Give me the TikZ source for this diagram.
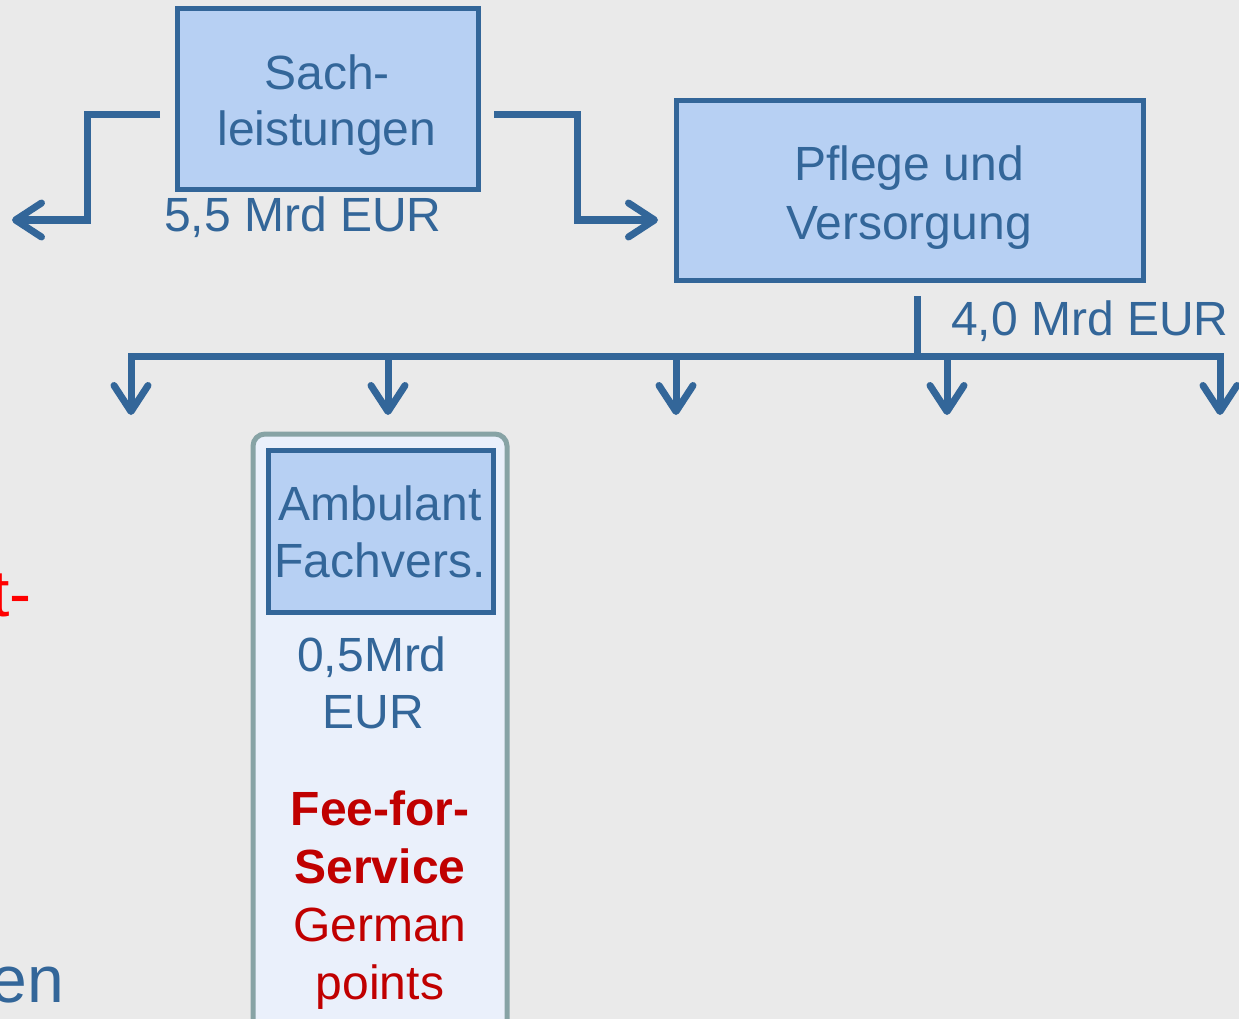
\documentclass[tikz,border=0pt]{standalone}
\usepackage{fontspec}
\setmainfont{Liberation Sans}
\usetikzlibrary{arrows.meta}
\definecolor{bl}{HTML}{336699}
\definecolor{bfill}{HTML}{B7D0F3}
\definecolor{bgc}{HTML}{EAEAEA}
\definecolor{ofill}{HTML}{EAF0FB}
\definecolor{oline}{HTML}{87A3A5}
\definecolor{dred}{HTML}{C00000}
\begin{document}
\begin{tikzpicture}[x=1pt,y=-1pt,
  bluebox/.style={draw=bl, fill=bfill, line width=5pt, inner sep=0pt},
  outerbox/.style={draw=oline, fill=ofill, line width=5pt, rounded corners=12pt, inner sep=0pt},
  txt/.style={text=bl, font=\fontsize{48}{58}\selectfont, inner sep=0pt, anchor=base},
  redtxt/.style={text=dred, font=\fontsize{48}{58}\selectfont, inner sep=0pt, anchor=base},
  conn/.style={draw=bl, line width=7pt},
  arr/.style={-{Straight Barb[length=26pt,width=34pt,line cap=round,line join=round]}}
]
\useasboundingbox (0,0) rectangle (1239,1019);
\clip (0,0) rectangle (1239,1019);
\fill[bgc] (0,0) rectangle (1239,1019);

% boxes
\node[bluebox, minimum width=301pt, minimum height=181pt] (sach) at (327.5,99.5) {};
\node[bluebox, minimum width=467pt, minimum height=179pt] (pflege) at (909.5,190.5) {};
\node[outerbox, minimum width=254pt, minimum height=600pt] (outer) at (380,734) {};
\node[bluebox, minimum width=225pt, minimum height=162pt] (amb) at (380.5,531) {};

% box texts
\node[txt] (s1) at (327,90) {Sach-};
\node[txt] (s2) at (327,146) {leistungen};
\node[txt] (s3) at (303,232) {5,5 Mrd EUR};
\node[txt] (p1) at (909,181) {Pflege und};
\node[txt] (p2) at (909,239) {Versorgung};
\node[txt] (p3) at (1090,335) {4,0 Mrd EUR};
\node[txt] (a1) at (380,520) {Ambulant};
\node[txt] (a2) at (380,577) {Fachvers.};
\node[txt] (a3) at (372,671) {0,5Mrd};
\node[txt] (a4) at (373,728) {EUR};
\node[redtxt, font=\fontsize{48}{58}\selectfont\bfseries] (f1) at (380,825) {Fee-for-};
\node[redtxt, font=\fontsize{48}{58}\selectfont\bfseries] (f2) at (380,883) {Service};
\node[redtxt] (f3) at (380,941) {German};
\node[redtxt] (f4) at (380,999) {points};

% cut-off texts at left
\node[txt, text=red, font=\fontsize{66}{78}\selectfont, anchor=base west] (tl) at (-9,616) {t-};
\node[txt, font=\fontsize{66}{78}\selectfont, anchor=base east] (el) at (64.5,1002) {en};

% connectors from Sachleistungen
\coordinate (l0) at (160,115);
\coordinate (l1) at (12,220);
\coordinate (r0) at (494,115);
\coordinate (r1) at (658,220);
\draw[conn, arr] (l0) -- (87,115) -- (87,220) -- (l1);
\draw[conn, arr] (r0) -- (577,115) -- (577,220) -- (r1);

% distribution from Pflege
\coordinate (v0) at (917,296);
\coordinate (v1) at (917,356);
\draw[conn] (v0) -- (v1);
\coordinate (d1) at (131,415);
\coordinate (d2) at (388,415);
\coordinate (d3) at (676,415);
\coordinate (d4) at (947,415);
\coordinate (d5) at (1220,415);
\draw[conn, {Straight Barb[length=26pt,width=34pt,line cap=round,line join=round]}-{Straight Barb[length=26pt,width=34pt,line cap=round,line join=round]}]
  (d1) -- (131,356) -- (1220,356) -- (d5);
\draw[conn, arr] (388,356) -- (d2);
\draw[conn, arr] (676,356) -- (d3);
\draw[conn, arr] (947,356) -- (d4);
\end{tikzpicture}
\end{document}
